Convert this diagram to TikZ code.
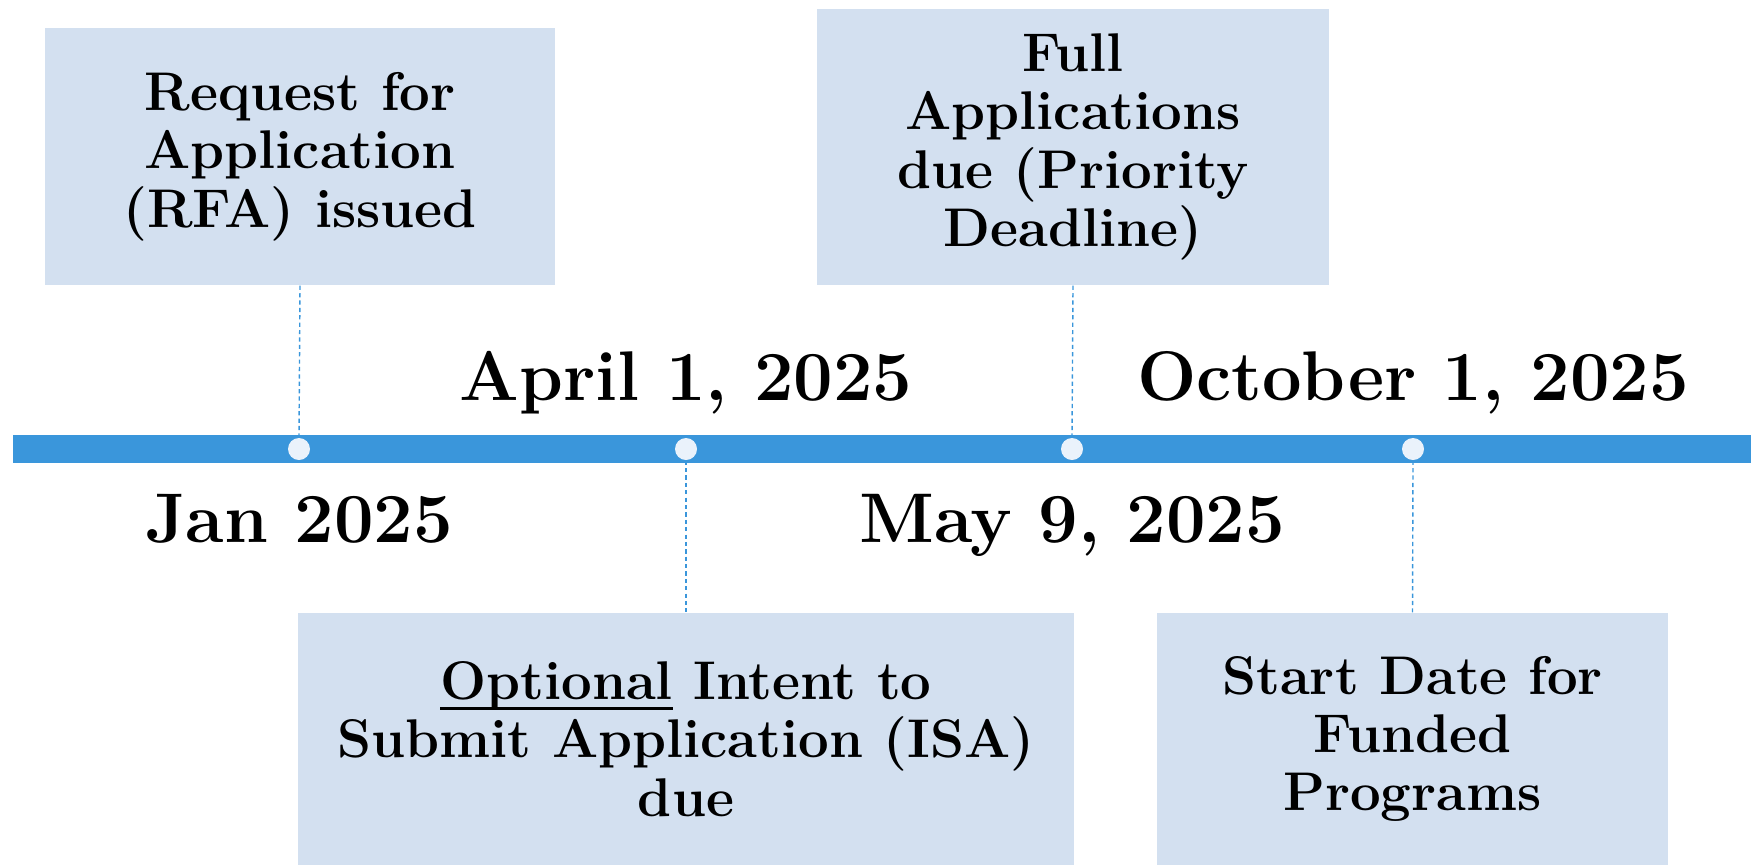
\documentclass[tikz,border=0pt]{standalone}
\usetikzlibrary{positioning}

\definecolor{barblue}{HTML}{3A96DB}
\definecolor{boxblue}{HTML}{D3E0F0}
\definecolor{dotwhite}{HTML}{EAF2FB}

\newcommand{\thickul}[1]{\setbox0\hbox{#1}\rlap{\rule[-3pt]{\wd0}{0.8pt}}\box0\relax}

\tikzset{
  eventbox/.style={rectangle, fill=boxblue, draw=none, align=center,
    font=\fontsize{15.5}{16.6}\selectfont\bfseries, inner sep=0pt},
  datelabel/.style={anchor=base, font=\fontsize{20}{22}\selectfont\bfseries, inner sep=0pt},
  dot/.style={circle, fill=dotwhite, draw=none, minimum size=2.2mm, inner sep=0pt},
  leader/.style={barblue, line width=0.4pt, dash pattern=on 1.2pt off 0.9pt}
}

\begin{document}
\begin{tikzpicture}[x=0.1mm, y=-0.1mm]
  \useasboundingbox (0,0) rectangle (1751,864);
  \fill[barblue] (13,435) rectangle (1751,463);
  % dots on the time line
  \node[dot] (D1) at (299,449) {};
  \node[dot] (D2) at (686,449) {};
  \node[dot] (D3) at (1072,449) {};
  \node[dot] (D4) at (1413,449) {};
  % boxes
  \node[eventbox, minimum width=51mm, minimum height=25.7mm] (RFA) at (300,156.5)
    {Request for\\Application\\(RFA) issued};
  \node[eventbox, minimum width=51.2mm, minimum height=27.6mm] (FULL) at (1073,147)
    {Full\\Applications\\due (Priority\\Deadline)};
  \node[eventbox, minimum width=77.6mm, minimum height=25.2mm] (ISA) at (686,739)
    {\thickul{Optional} Intent to\\Submit Application (ISA)\\due};
  \node[eventbox, minimum width=51.1mm, minimum height=25.2mm] (START) at (1412.5,739)
    {Start Date for\\Funded\\Programs};
  % leaders
  \draw[leader] (RFA.south) -- (D1.north);
  \draw[leader] (D2.south) -- (ISA.north);
  \draw[leader] (FULL.south) -- (D3.north);
  \draw[leader] (D4.south) -- (START.north);
  % dates
  \node[datelabel] (JAN) at (299,542) {Jan 2025};
  \node[datelabel] (APR) at (686,400) {April 1, 2025};
  \node[datelabel] (MAY) at (1072,542) {May 9, 2025};
  \node[datelabel] (OCT) at (1413,400) {October 1, 2025};
\end{tikzpicture}
\end{document}
